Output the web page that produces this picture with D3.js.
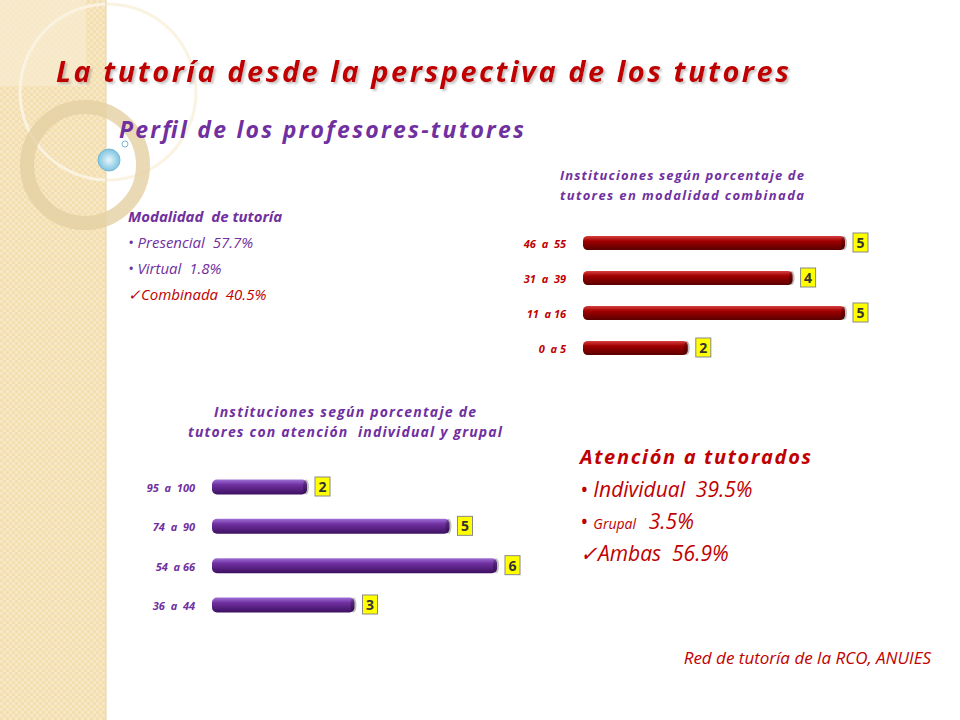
<!DOCTYPE html>
<html><head><meta charset="utf-8">
<script src="https://cdn.jsdelivr.net/npm/d3@7"></script>
<style>body{margin:0}svg{display:block;font-family:"Open Sans",sans-serif}text{white-space:pre}</style>
</head><body><svg id="c" width="960" height="720"></svg>
<script>
const catsA=["46  a  55","31  a  39","11  a 16","0  a 5"];
const valsA=[5,4,5,2];
const catsB=["95  a  100","74  a  90","54  a 66","36  a  44"];
const valsB=[2,5,6,3];

const svg=d3.select("#c");
const defs=svg.append("defs");
const pat=defs.append("pattern").attr("id","chk").attr("width",6).attr("height",6).attr("patternUnits","userSpaceOnUse");
pat.append("rect").attr("width",6).attr("height",6).attr("fill","#f3deb0");
pat.append("rect").attr("width",3).attr("height",3).attr("fill","#f7e7c4");
pat.append("rect").attr("x",3).attr("y",3).attr("width",3).attr("height",3).attr("fill","#f7e7c4");
function grad(id,c1,c2,c3){const g=defs.append("linearGradient").attr("id",id).attr("x1",0).attr("x2",0).attr("y1",0).attr("y2",1);
g.append("stop").attr("offset","0%").attr("stop-color",c1);g.append("stop").attr("offset","35%").attr("stop-color",c2);g.append("stop").attr("offset","100%").attr("stop-color",c3);}
grad("gr","#d84040","#a00000","#5a0000");
grad("gp","#a070d8","#7030a0","#3c1060");
const bg=defs.append("radialGradient").attr("id","bub");
bg.append("stop").attr("offset","0%").attr("stop-color","#e8f6fc");bg.append("stop").attr("offset","100%").attr("stop-color","#7cc4e0");
const f=defs.append("filter").attr("id","sh");
f.append("feDropShadow").attr("dx",2).attr("dy",2).attr("stdDeviation",1).attr("flood-color","#888").attr("flood-opacity",0.5);

svg.append("rect").attr("width",960).attr("height",720).attr("fill","#fff");
svg.append("rect").attr("width",106).attr("height",720).attr("fill","url(#chk)");
svg.append("rect").attr("width",86).attr("height",86).attr("fill","#f8ecd2").attr("opacity",0.7);
svg.append("circle").attr("cx",108).attr("cy",92).attr("r",88).attr("fill","none").attr("stroke","#fbf3e2").attr("stroke-width",3);
svg.append("circle").attr("cx",85).attr("cy",165).attr("r",58).attr("fill","none").attr("stroke","#e3cfa3").attr("stroke-width",14).attr("opacity",0.8);
svg.append("line").attr("x1",106).attr("x2",106).attr("y1",0).attr("y2",720).attr("stroke","#e5d3a8");
svg.append("circle").attr("cx",109).attr("cy",160).attr("r",11).attr("fill","url(#bub)").attr("stroke","#7ab8d0");
svg.append("circle").attr("cx",125).attr("cy",144).attr("r",3).attr("fill","#fff").attr("stroke","#7ab8d0");

svg.append("text").attr("x",56).attr("y",82).attr("fill","#c00000").attr("font-size",29).attr("font-weight","bold").attr("font-style","italic").attr("textLength",733).attr("filter","url(#sh)").text("La tutoría desde la perspectiva de los tutores");
svg.append("text").attr("x",119).attr("y",138).attr("fill","#7030a0").attr("font-size",23).attr("font-weight","bold").attr("font-style","italic").attr("textLength",405).text("Perfil de los profesores-tutores");

const t1=[["Modalidad  de tutoría","#7030a0",true],["• Presencial  57.7%","#7030a0",false],["• Virtual  1.8%","#7030a0",false],["✓Combinada  40.5%","#c00000",false]];
t1.forEach((d,i)=>svg.append("text").attr("x",128).attr("y",222+i*26).attr("fill",d[1]).attr("font-size",15).attr("font-style","italic").attr("font-weight",d[2]?"bold":"normal").text(d[0]));

svg.append("text").attr("x",580).attr("y",464).attr("fill","#c00000").attr("font-size",20).attr("font-weight","bold").attr("font-style","italic").attr("textLength",231).text("Atención a tutorados");
svg.append("text").attr("x",580).attr("y",497).attr("fill","#c00000").attr("font-size",21).attr("font-style","italic").text("• Individual  39.5%");
const g2=svg.append("text").attr("x",580).attr("y",529).attr("fill","#c00000").attr("font-style","italic");
g2.append("tspan").attr("font-size",21).text("• ");g2.append("tspan").attr("font-size",14).text("Grupal  ");g2.append("tspan").attr("font-size",21).text(" 3.5%");
svg.append("text").attr("x",580).attr("y",561).attr("fill","#c00000").attr("font-size",21).attr("font-style","italic").text("✓Ambas  56.9%");
svg.append("text").attr("x",931).attr("y",664).attr("text-anchor","end").attr("fill","#c00000").attr("font-size",17).attr("font-style","italic").text("Red de tutoría de la RCO, ANUIES");

function chart(cats,vals,x0,unit,yTop,yBot,h,fill,labColor,title,tx,ty,tsize,tl){
  const x=d3.scaleLinear().domain([0,1]).range([x0,x0+unit]);
  const y=d3.scalePoint().domain(cats).range([yTop,yBot]);
  title.forEach((t,i)=>svg.append("text").attr("x",tx-tl[i]/2).attr("y",ty+i*20).attr("fill","#7030a0").attr("font-size",tsize).attr("font-weight","bold").attr("font-style","italic").attr("textLength",tl[i]).text(t));
  const g=svg.append("g");
  cats.forEach((c,i)=>{
    const yc=y(c),w=x(vals[i])-x0;
    g.append("rect").attr("x",x0).attr("y",yc-h/2).attr("width",w).attr("height",h).attr("rx",h/3).attr("fill",fill);
    g.append("ellipse").attr("cx",x0+w-1).attr("cy",yc).attr("rx",3).attr("ry",h/2).attr("fill","#000").attr("opacity",0.25);
    g.append("text").attr("x",x0-17).attr("y",yc+5).attr("text-anchor","end").attr("fill",labColor).attr("font-size",11).attr("font-weight","bold").attr("font-style","italic").text(c);
    const bx=x0+w+8;
    g.append("rect").attr("x",bx).attr("y",yc-10).attr("width",15).attr("height",19).attr("fill","#ffff00").attr("stroke","#888");
    g.append("text").attr("x",bx+7.5).attr("y",yc+5).attr("text-anchor","middle").attr("fill","#333").attr("font-size",14).attr("font-weight","bold").text(vals[i]);
  });
}
chart(catsA,valsA,583,52.4,243,348,14,"url(#gr)","#c00000",["Instituciones según porcentaje de","tutores en modalidad combinada"],682,180,13,[244,244]);
chart(catsB,valsB,212,47.5,487,605,15,"url(#gp)","#7030a0",["Instituciones según porcentaje de","tutores con atención  individual y grupal"],345,417,14,[262,314]);
</script></body></html>
